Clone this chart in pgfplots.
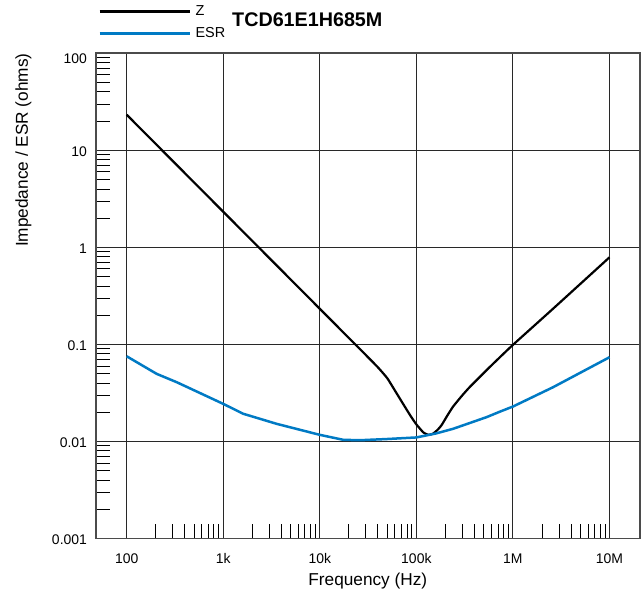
\documentclass[border=0pt]{standalone}
\usepackage{fontspec}
\setmainfont{Liberation Sans}
\usepackage{pgfplots}
\pgfplotsset{compat=1.18}
\definecolor{esrblue}{RGB}{0,122,196}
\definecolor{gridc}{RGB}{40,40,40}
\definecolor{framec}{RGB}{75,75,75}
\begin{document}
\begin{tikzpicture}
\begin{loglogaxis}[
  scale only axis, width=544bp, height=485.2bp,
  xmin=47.9, xmax=2.06e7, ymin=0.001, ymax=100,
  xtick={100,1000,10000,100000,1000000,10000000},
  xticklabels={100,1k,10k,100k,1M,10M},
  ytick={0.001,0.01,0.1,1,10,100},
  yticklabels={0.001,0.01,0.1,1,10,\raisebox{-4bp}[\height][0pt]{100}},
  minor xtick={200,300,400,500,600,700,800,900,2000,3000,4000,5000,6000,7000,8000,9000,20000,30000,40000,50000,60000,70000,80000,90000,200000,300000,400000,500000,600000,700000,800000,900000,2000000,3000000,4000000,5000000,6000000,7000000,8000000,9000000},
  minor ytick={0.002,0.003,0.004,0.005,0.006,0.007,0.008,0.009,0.02,0.03,0.04,0.05,0.06,0.07,0.08,0.09,0.2,0.3,0.4,0.5,0.6,0.7,0.8,0.9,2,3,4,5,6,7,8,9,20,30,40,50,60,70,80,90},
  grid=major, major grid style={gridc, line width=1bp},
  axis line style={framec, line width=1.7bp},
  tick align=inside, major tick length=0pt, minor tick length=14.5bp,
  minor tick style={black, line width=0.9bp},
  xtick pos=left, ytick pos=left,
  xticklabel style={font=\fontsize{14}{16}\selectfont, inner sep=0pt, anchor=north, yshift=-15bp},
  yticklabel style={font=\fontsize{14}{16}\selectfont, inner sep=0pt, anchor=east, xshift=-8.7bp, yshift=-1.5bp},
  xlabel={Frequency (Hz)},
  ylabel={Impedance / ESR (ohms)},
  xlabel style={font=\fontsize{17.3}{20}\selectfont, inner sep=0pt, at={(axis description cs:0.5,-0.0711)}, anchor=north},
  ylabel style={font=\fontsize{17.3}{20}\selectfont, inner sep=0pt, at={(axis description cs:-0.1178,1)}, anchor=south east},
  title={TCD61E1H685M},
  title style={font=\bfseries\fontsize{19.8}{22}\selectfont, inner sep=0pt, at={(axis description cs:0.2504,1.0562)}, anchor=west},
  legend style={at={(axis description cs:0.0046,1.0975)}, anchor=north west, draw=none, fill=none, inner sep=0pt, outer sep=0pt, row sep=10.2bp, column sep=4.4bp, font=\fontsize{14.5}{16}\selectfont, nodes={inner sep=0pt}},
  legend cell align=left,
  legend image code/.code={\draw[#1, line width=2.8bp] (0bp,0bp) -- (90bp,0bp);},
]
\addplot[black, line width=2.2bp, line join=round, smooth, tension=0.3] coordinates {
(100,23.3) (1000,2.33) (10000,0.233) (30000,0.0777) (40000,0.0580)
(50000,0.0448) (62500,0.0313) (86000,0.0187) (100000,0.0150) (118000,0.0124)
(133000,0.0117) (148000,0.0120) (165000,0.0131) (183000,0.0148) (210000,0.0186)
(241000,0.0230) (300000,0.0300) (359000,0.0366) (450000,0.0458) (535000,0.0545)
(735000,0.0740) (1000000,0.099) (2600000,0.233) (10000000,0.79)
};
\addlegendentry{Z}
\addplot[esrblue, line width=2.5bp, line join=round] coordinates {
(100,0.0755) (204,0.0498) (330,0.0408) (1000,0.0244) (1610,0.0193)
(3570,0.0152) (10000,0.0117) (17500,0.0104) (26000,0.0103) (50000,0.0106)
(100000,0.0110) (160000,0.0121) (240000,0.0135) (533000,0.0178) (735000,0.0203)
(1000000,0.0229) (2600000,0.0362) (10000000,0.0738)
};
\addlegendentry{ESR}
\end{loglogaxis}
\path ([shift={(-95.8bp,-56.5bp)}]current axis.south west) rectangle ([shift={(1.2bp,53.3bp)}]current axis.north east);
\end{tikzpicture}
\end{document}
